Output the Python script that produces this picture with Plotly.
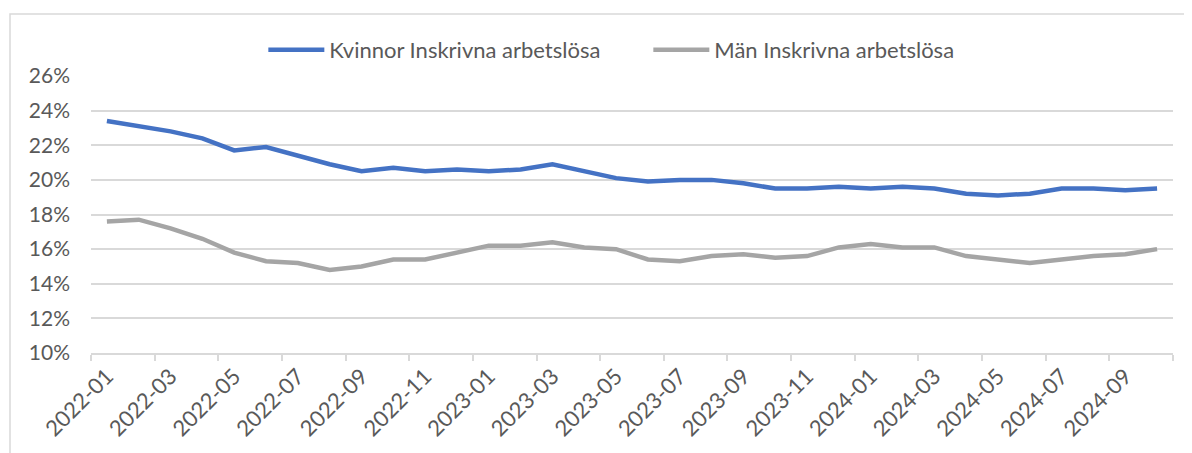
import plotly.graph_objects as go

months = ["2022-01","2022-02","2022-03","2022-04","2022-05","2022-06","2022-07","2022-08","2022-09","2022-10","2022-11","2022-12",
          "2023-01","2023-02","2023-03","2023-04","2023-05","2023-06","2023-07","2023-08","2023-09","2023-10","2023-11","2023-12",
          "2024-01","2024-02","2024-03","2024-04","2024-05","2024-06","2024-07","2024-08","2024-09","2024-10"]

kvinnor = [23.4,23.1,22.8,22.4,21.7,21.9,21.4,20.9,20.5,20.7,20.5,20.6,
           20.5,20.6,20.9,20.5,20.1,19.9,20.0,20.0,19.8,19.5,19.5,19.6,
           19.5,19.6,19.5,19.2,19.1,19.2,19.5,19.5,19.4,19.5]

man = [17.6,17.7,17.2,16.6,15.8,15.3,15.2,14.8,15.0,15.4,15.4,15.8,
       16.2,16.2,16.4,16.1,16.0,15.4,15.3,15.6,15.7,15.5,15.6,16.1,
       16.3,16.1,16.1,15.6,15.4,15.2,15.4,15.6,15.7,16.0]

series_names = ["Kvinnor Inskrivna arbetslösa", "Män Inskrivna arbetslösa"]
colors = ["#4472C4", "#A5A5A5"]

x = list(range(len(months)))
FONT = "Lato"
TXT = "#595959"
GRID = "#D9D9D9"

# page body adds an 8px margin, so the figure is sized/offset to compensate
W, H = 1184, 445
fig = go.Figure()
for name, vals, col in zip(series_names, [kvinnor, man], colors):
    fig.add_trace(go.Scatter(x=x, y=vals, mode="lines", name=name,
                             line=dict(color=col, width=4.5, shape="linear")))

fig.update_layout(
    width=W, height=H,
    margin=dict(l=83, r=19, t=68, b=100),
    paper_bgcolor="white", plot_bgcolor="white",
    font=dict(family=FONT, color=TXT, size=20),
    showlegend=True,
    legend=dict(orientation="h", x=0.5151, xanchor="center", y=1 - 42 / H, yanchor="middle",
                yref="container", font=dict(family=FONT, size=22, color=TXT),
                itemwidth=56, entrywidth=314, entrywidthmode="pixels",
                bgcolor="rgba(0,0,0,0)"),
    xaxis=dict(range=[-0.5, len(months) - 0.5], tickmode="array",
               tickvals=x[::2], ticktext=months[::2], tickangle=-45,
               ticks="", showgrid=False, zeroline=False, automargin=False,
               showline=True, linecolor=GRID, linewidth=1.5,
               tickfont=dict(family=FONT, size=22, color=TXT),
               minor=dict(tickmode="array",
                          tickvals=[v - 0.5 for v in x[::2]] + [len(months) - 0.5],
                          ticks="outside", ticklen=6, tickcolor=GRID, tickwidth=1.5,
                          showgrid=False)),
    yaxis=dict(range=[10, 26], dtick=2, tick0=10, ticksuffix="%",
               showgrid=True, gridcolor=GRID, gridwidth=1.5, zeroline=False,
               showline=False, ticks="", ticklabelstandoff=20, automargin=False,
               tickfont=dict(family=FONT, size=21, color=TXT)),
)

fig.add_shape(type="rect", xref="paper", yref="paper",
              x0=(10 - 91) / 1082, x1=1.2, y0=-0.6, y1=(353 - 14) / 277,
              line=dict(color=GRID, width=1.5), fillcolor="rgba(0,0,0,0)", layer="below")

fig.write_html("out.html")
